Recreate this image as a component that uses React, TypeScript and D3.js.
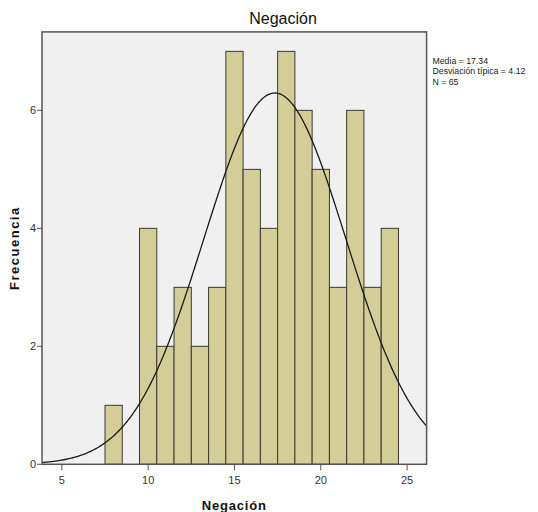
import { useMemo } from 'react';
import * as d3 from 'd3';

// Histogram bins (centre value of each 1-wide bin) and their counts
const binCenters = [8, 10, 11, 12, 13, 14, 15, 16, 17, 18, 19, 20, 21, 22, 23, 24];
const binCounts = [1, 4, 2, 3, 2, 3, 7, 5, 4, 7, 6, 5, 3, 6, 3, 4];
const xTicks = [5, 10, 15, 20, 25];
const yTicks = [0, 2, 4, 6];
const statsLines = ['Media = 17.34', 'Desviación típica = 4.12', 'N = 65'];
const mean = 17.34;
const sd = 4.12;
const n = 65;

const W = 538;
const H = 512;
const plot = { left: 42, right: 426.6, top: 31.9, bottom: 464.3 };

export default function App() {
  const x = d3.scaleLinear().domain([3.85, 26.13]).range([plot.left, plot.right]);
  const y = d3.scaleLinear().domain([0, 7.33]).range([plot.bottom, plot.top]);

  const curvePath = useMemo(() => {
    const [x0, x1] = x.domain();
    const pts = d3.range(0, 301).map(i => x0 + ((x1 - x0) * i) / 300);
    const line = d3
      .line<number>()
      .x(v => x(v))
      .y(v => y((n / (sd * Math.sqrt(2 * Math.PI))) * Math.exp(-((v - mean) ** 2) / (2 * sd * sd))));
    return line(pts) ?? '';
  }, []);

  return (
    <svg
      width={W}
      height={H}
      style={{ position: 'fixed', left: 0, top: 0, background: '#fff' }}
      fontFamily="'Liberation Sans', Arial, sans-serif"
    >
      <defs>
        <clipPath id="plotclip">
          <rect x={plot.left} y={plot.top} width={plot.right - plot.left} height={plot.bottom - plot.top} />
        </clipPath>
      </defs>

      <text x={283} y={24} textAnchor="middle" fontSize={16} fill="#111">
        Negación
      </text>

      <rect
        x={plot.left}
        y={plot.top}
        width={plot.right - plot.left}
        height={plot.bottom - plot.top}
        fill="#f0f0f0"
      />

      {binCenters.map((c, i) => (
        <rect
          key={c}
          x={x(c - 0.5)}
          y={y(binCounts[i])}
          width={x(c + 0.5) - x(c - 0.5)}
          height={y(0) - y(binCounts[i])}
          fill="#d3ce97"
          stroke="#3a3a30"
          strokeWidth={1}
        />
      ))}

      <path d={curvePath} fill="none" stroke="#1a1a1a" strokeWidth={1.3} clipPath="url(#plotclip)" />

      <rect
        x={plot.left}
        y={plot.top}
        width={plot.right - plot.left}
        height={plot.bottom - plot.top}
        fill="none"
        stroke="#555"
        strokeWidth={1.5}
      />

      {yTicks.map(t => (
        <g key={t} transform={`translate(0,${y(t)})`}>
          <line x1={plot.left - 5} x2={plot.left} stroke="#555" strokeWidth={1} />
          <text x={plot.left - 6} dy="0.35em" textAnchor="end" fontSize={11} fill="#333">
            {t}
          </text>
        </g>
      ))}

      {xTicks.map(t => (
        <g key={t} transform={`translate(${x(t)},0)`}>
          <line y1={plot.bottom} y2={plot.bottom + 6} stroke="#555" strokeWidth={1} />
          <text y={plot.bottom + 20} textAnchor="middle" fontSize={11} fill="#333">
            {t}
          </text>
        </g>
      ))}

      <text
        x={(plot.left + plot.right) / 2}
        y={510}
        textAnchor="middle"
        fontSize={13}
        fontWeight="bold"
        letterSpacing={0.8}
        fill="#111"
      >
        Negación
      </text>

      <text
        transform={`translate(19,${(plot.top + plot.bottom) / 2}) rotate(-90)`}
        textAnchor="middle"
        fontSize={13}
        fontWeight="bold"
        letterSpacing={1.5}
        fill="#111"
      >
        Frecuencia
      </text>

      <g transform="translate(432.5,0) scale(0.92,1)">
        {statsLines.map((s, i) => (
          <text key={s} x={0} y={64 + i * 10.5} fontSize={9.5} fill="#222">
            {s}
          </text>
        ))}
      </g>
    </svg>
  );
}
